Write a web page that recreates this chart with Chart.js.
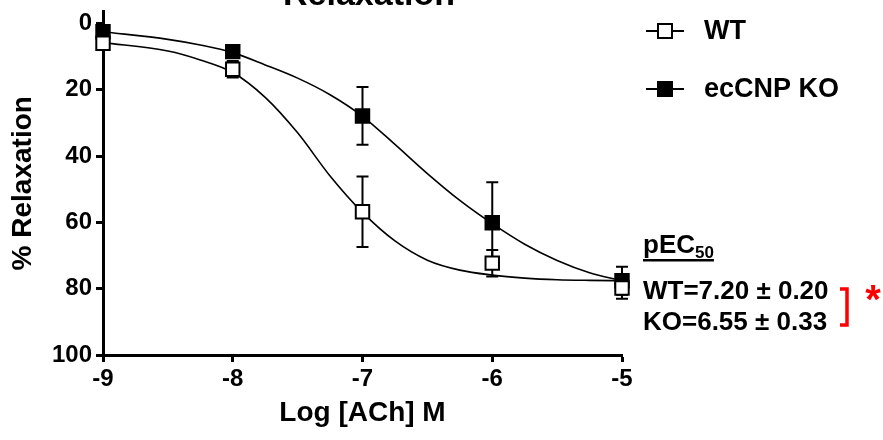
<!DOCTYPE html>
<html>
<head>
<meta charset="utf-8">
<script src="https://cdn.jsdelivr.net/npm/chart.js@4.4.1/dist/chart.umd.min.js"></script>
<style>
  html, body { margin: 0; padding: 0; background: #fff; }
  #wrap { width: 883px; height: 440px; }
</style>
</head>
<body>
<div id="wrap"><canvas id="myChart" width="883" height="440"></canvas></div>
<script>
// Datos
const logDose = [-9, -8, -7, -6, -5];
const wtMean = [6.0, 13.8, 56.8, 72.3, 79.8];
const wtSem = [1.0, 2.5, 10.6, 4.0, 3.2];
const koMean = [2.5, 8.5, 27.9, 60.1, 77.6];
const koSem = [1.0, 1.5, 8.7, 12.2, 4.2];

// Curvas ajustadas (leidas punto a punto de la figura)
const fitX = [-9, -8.5, -8.25, -8, -7.75, -7.5, -7.25, -7, -6.75, -6.5, -6.25, -6, -5.75, -5.5, -5.25, -5];
const wtFit = [5.8, 8.3, 11.0, 14.8, 22.3, 33.0, 46.0, 57.0, 65.6, 71.4, 74.4, 75.9, 76.8, 77.3, 77.5, 77.6];
const koFit = [2.5, 4.8, 6.5, 8.8, 12.5, 16.5, 21.5, 28.0, 36.5, 45.3, 53.4, 60.4, 66.6, 71.5, 75.2, 77.6];

const xTicks = [-9, -8, -7, -6, -5];
const yTicks = [0, 20, 40, 60, 80, 100];

const FONT = "'Liberation Sans', Arial, sans-serif";
const RED = "#ff0000";

function toPoints(xs, ys) {
    return xs.map((x, i) => ({ x: x, y: ys[i] }));
}

// Barras de error
const errorBars = {
    id: "errorBars",
    beforeDatasetsDraw(chart) {
        const ctx = chart.ctx;
        const xs = chart.scales.x;
        const ys = chart.scales.y;
        ctx.save();
        ctx.strokeStyle = "#000";
        ctx.lineWidth = 2;
        [[koMean, koSem], [wtMean, wtSem]].forEach(([m, e]) => {
            logDose.forEach((d, i) => {
                const px = xs.getPixelForValue(d);
                const top = ys.getPixelForValue(m[i] - e[i]);
                const bot = ys.getPixelForValue(m[i] + e[i]);
                ctx.beginPath();
                ctx.moveTo(px, top); ctx.lineTo(px, bot);
                ctx.moveTo(px - 6, top); ctx.lineTo(px + 6, top);
                ctx.moveTo(px - 6, bot); ctx.lineTo(px + 6, bot);
                ctx.stroke();
            });
        });
        ctx.restore();
    }
};

// Titulo, leyenda y anotaciones
const extras = {
    id: "extras",
    afterDraw(chart) {
        const ctx = chart.ctx;
        ctx.save();
        ctx.fillStyle = "#000";
        ctx.textAlign = "center";
        ctx.textBaseline = "alphabetic";
        ctx.font = "bold 34px " + FONT;
        ctx.fillText("Relaxation", 369, 5);

        // leyenda
        ctx.textAlign = "left";
        ctx.textBaseline = "middle";
        ctx.font = "bold 27px " + FONT;
        const items = [["WT", "#fff", 31], ["ecCNP KO", "#000", 89]];
        items.forEach(([label, fill, y]) => {
            ctx.strokeStyle = "#000";
            ctx.lineWidth = 2;
            ctx.beginPath();
            ctx.moveTo(646, y); ctx.lineTo(684, y);
            ctx.stroke();
            ctx.fillStyle = fill;
            ctx.fillRect(658, y - 7, 14, 14);
            ctx.strokeRect(658, y - 7, 14, 14);
            ctx.fillStyle = "#000";
            ctx.fillText(label, 704, y + 1);
        });

        // pEC50
        ctx.textBaseline = "alphabetic";
        ctx.font = "bold 26px " + FONT;
        ctx.fillText("pEC", 643, 253);
        const w = ctx.measureText("pEC").width;
        ctx.font = "bold 17px " + FONT;
        ctx.fillText("50", 643 + w, 258);
        const w2 = ctx.measureText("50").width;
        ctx.fillRect(643, 259, w + w2, 2.5);

        ctx.font = "bold 26px " + FONT;
        ctx.textBaseline = "middle";
        ctx.fillText("WT=7.20 \u00b1 0.20", 643, 292);
        ctx.fillText("KO=6.55 \u00b1 0.33", 643, 323);

        // corchete rojo y asterisco
        ctx.strokeStyle = RED;
        ctx.lineWidth = 3.5;
        ctx.beginPath();
        ctx.moveTo(840, 289); ctx.lineTo(847, 289);
        ctx.lineTo(847, 325); ctx.lineTo(840, 325);
        ctx.stroke();
        ctx.fillStyle = RED;
        ctx.textAlign = "center";
        ctx.textBaseline = "middle";
        ctx.font = "bold 40px " + FONT;
        ctx.fillText("*", 873, 302);
        ctx.restore();
    }
};

const axisCommon = {
    border: { display: true, color: "#000", width: 3 },
    grid: { drawOnChartArea: false, drawTicks: true, tickLength: 7, tickWidth: 3, tickColor: "#000" },
    ticks: { color: "#000", font: { family: FONT, size: 24, weight: "bold" } }
};

new Chart("myChart", {
    type: "scatter",
    data: {
        datasets: [
            {
                label: "WT",
                data: toPoints(logDose, wtMean),
                pointStyle: "rect",
                pointRadius: 9.5,
                pointBorderWidth: 2,
                pointBackgroundColor: "#fff",
                pointBorderColor: "#000",
                showLine: false,
                order: 0
            },
            {
                label: "ecCNP KO",
                data: toPoints(logDose, koMean),
                pointStyle: "rect",
                pointRadius: 9.5,
                pointBorderWidth: 2,
                pointBackgroundColor: "#000",
                pointBorderColor: "#000",
                showLine: false,
                order: 1
            },
            {
                label: "WT fit",
                data: toPoints(fitX, wtFit),
                showLine: true,
                pointRadius: 0,
                borderColor: "#000",
                borderWidth: 1.6,
                cubicInterpolationMode: "monotone",
                order: 2
            },
            {
                label: "KO fit",
                data: toPoints(fitX, koFit),
                showLine: true,
                pointRadius: 0,
                borderColor: "#000",
                borderWidth: 1.6,
                cubicInterpolationMode: "monotone",
                order: 3
            }
        ]
    },
    options: {
        responsive: false,
        animation: false,
        clip: false,
        layout: { padding: { left: 0, right: 261, top: 10, bottom: 0 } },
        plugins: {
            legend: { display: false },
            tooltip: { enabled: false }
        },
        scales: {
            x: {
                ...axisCommon,
                type: "linear",
                min: -9,
                max: -5,
                afterBuildTicks: (s) => { s.ticks = xTicks.map(v => ({ value: v })); },
                afterFit: (s) => { s.height = 85; s.paddingLeft = 0; s.paddingRight = 0; },
                ticks: { ...axisCommon.ticks, padding: 3 },
                title: {
                    display: true,
                    text: "Log [ACh] M",
                    color: "#000",
                    font: { family: FONT, size: 28, weight: "bold" },
                    padding: { top: 0, bottom: 10 }
                }
            },
            y: {
                ...axisCommon,
                type: "linear",
                reverse: true,
                min: -3.6,
                max: 100,
                afterBuildTicks: (s) => { s.ticks = yTicks.map(v => ({ value: v })); },
                afterFit: (s) => { s.width = 103; s.paddingTop = 0; s.paddingBottom = 0; },
                ticks: { ...axisCommon.ticks, padding: 4 },
                title: {
                    display: true,
                    text: "% Relaxation",
                    color: "#000",
                    font: { family: FONT, size: 28, weight: "bold" },
                    padding: { top: 6, bottom: 0 }
                }
            }
        }
    },
    plugins: [errorBars, extras]
});
</script>
</body>
</html>
